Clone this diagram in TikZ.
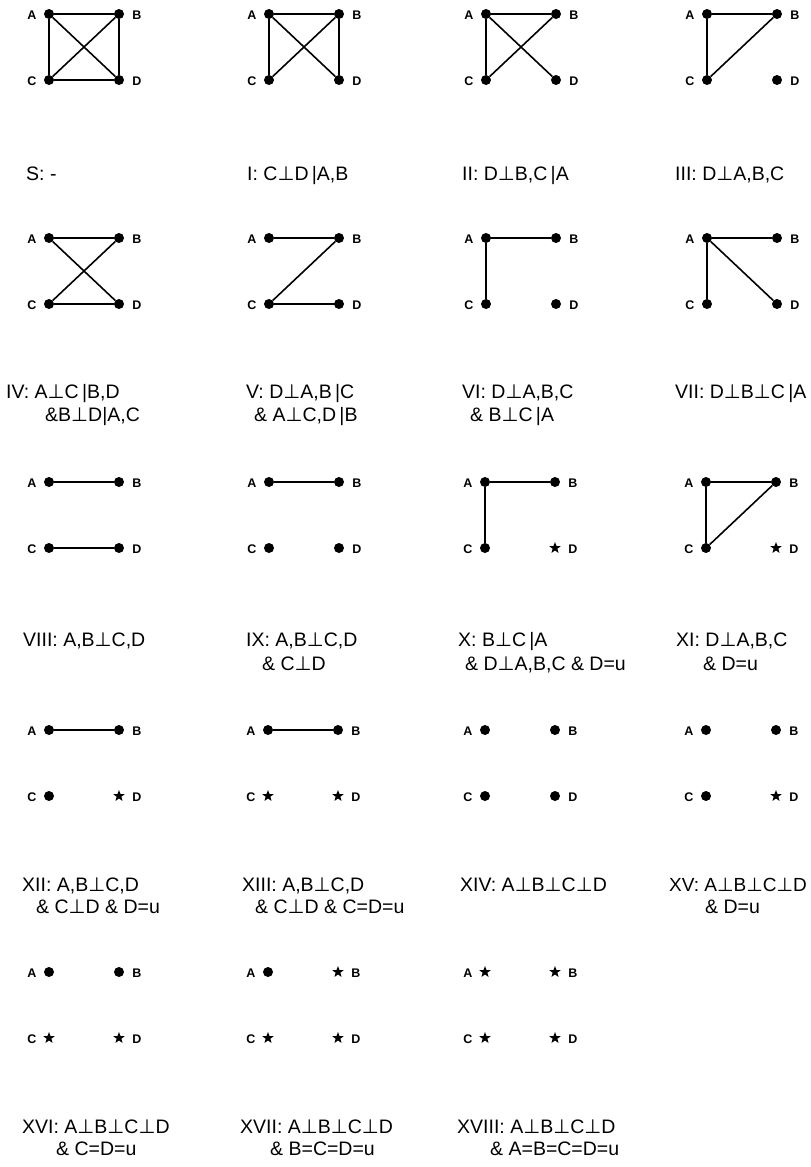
\documentclass[tikz,border=0pt]{standalone}
\usepackage{fontspec}
\setmainfont{Liberation Sans}
\newfontfamily\symf{DejaVu Sans}
\usetikzlibrary{shapes.geometric}
\tikzset{
  vdot/.style={circle, fill=black, inner sep=0pt, minimum size=10pt},
  vstar/.style={star, star points=5, star point ratio=2.4, fill=black, inner sep=0pt, minimum size=12pt},
  gedge/.style={line width=1.6pt},
  vlab/.style={font=\fontsize{12.5}{12.5}\selectfont\bfseries, inner sep=0pt},
  captxt/.style={font=\fontsize{19.5}{22}\selectfont, inner sep=0pt, anchor=base west},
}
\newcommand\ind{{\symf ⊥}}
\newcommand\mkpanel[7]{%
  \node[#4] (#1A) at (#2,#3) {};
  \node[#5] (#1B) at ({#2+70},#3) {};
  \node[#6] (#1C) at (#2,{#3+66}) {};
  \node[#7] (#1D) at ({#2+70},{#3+66}) {};
  \node[vlab] (#1la) at ({#2-17},{#3+1}) {A};
  \node[vlab] (#1lb) at ({#2+88},{#3+1}) {B};
  \node[vlab] (#1lc) at ({#2-17},{#3+67}) {C};
  \node[vlab] (#1ld) at ({#2+88},{#3+67}) {D};
}
\begin{document}
\begin{tikzpicture}[x=1pt,y=-1pt]
\useasboundingbox (0,0) rectangle (811,1167);
% ---------- row 1
\mkpanel{s}{49}{14}{vdot}{vdot}{vdot}{vdot}
\draw[gedge] (sA)--(sB) (sA)--(sC) (sA)--(sD) (sB)--(sC) (sB)--(sD) (sC)--(sD);
\mkpanel{i}{269}{14}{vdot}{vdot}{vdot}{vdot}
\draw[gedge] (iA)--(iB) (iA)--(iC) (iA)--(iD) (iB)--(iC) (iB)--(iD);
\mkpanel{ii}{486}{14}{vdot}{vdot}{vdot}{vdot}
\draw[gedge] (iiA)--(iiB) (iiA)--(iiC) (iiA)--(iiD) (iiB)--(iiC);
\mkpanel{iii}{707}{14}{vdot}{vdot}{vdot}{vdot}
\draw[gedge] (iiiA)--(iiiB) (iiiA)--(iiiC) (iiiB)--(iiiC);
\node[captxt] (cs) at (26,180) {S: -};
\node[captxt] (ci) at (247,180) {I: C\ind D\,|A,B};
\node[captxt] (cii) at (462,180) {II: D\ind B,C\,|A};
\node[captxt] (ciii) at (675,180) {III: D\ind A,B,C};
% ---------- row 2
\mkpanel{iv}{49}{238}{vdot}{vdot}{vdot}{vdot}
\draw[gedge] (ivA)--(ivB) (ivA)--(ivD) (ivB)--(ivC) (ivC)--(ivD);
\mkpanel{v}{269}{238}{vdot}{vdot}{vdot}{vdot}
\draw[gedge] (vA)--(vB) (vB)--(vC) (vC)--(vD);
\mkpanel{vi}{486}{238}{vdot}{vdot}{vdot}{vdot}
\draw[gedge] (viA)--(viB) (viA)--(viC);
\mkpanel{vii}{707}{238}{vdot}{vdot}{vdot}{vdot}
\draw[gedge] (viiA)--(viiB) (viiA)--(viiC) (viiA)--(viiD);
\node[captxt] (civ) at (6,398) {IV: A\ind C\,|B,D};
\node[captxt] (civb) at (45,421) {\&B\ind D|A,C};
\node[captxt] (cv) at (246,398) {V: D\ind A,B\,|C};
\node[captxt] (cvb) at (254,421) {\& A\ind C,D\,|B};
\node[captxt] (cvi) at (462,398) {VI: D\ind A,B,C};
\node[captxt] (cvib) at (470,421) {\& B\ind C\,|A};
\node[captxt] (cvii) at (675,398) {VII: D\ind B\ind C\,|A};
% ---------- row 3
\mkpanel{viii}{49}{482}{vdot}{vdot}{vdot}{vdot}
\draw[gedge] (viiiA)--(viiiB) (viiiC)--(viiiD);
\mkpanel{ix}{269}{482}{vdot}{vdot}{vdot}{vdot}
\draw[gedge] (ixA)--(ixB);
\mkpanel{x}{485}{482}{vdot}{vdot}{vdot}{vstar}
\draw[gedge] (xA)--(xB) (xA)--(xC);
\mkpanel{xi}{706}{482}{vdot}{vdot}{vdot}{vstar}
\draw[gedge] (xiA)--(xiB) (xiA)--(xiC) (xiB)--(xiC);
\node[captxt] (cviii) at (23,646) {VIII: A,B\ind C,D};
\node[captxt] (cix) at (246,646) {IX: A,B\ind C,D};
\node[captxt] (cixb) at (262,670) {\& C\ind D};
\node[captxt] (cx) at (458,646) {X: B\ind C\,|A};
\node[captxt] (cxb) at (465,670) {\& D\ind A,B,C \& D=u};
\node[captxt] (cxi) at (676,646) {XI: D\ind A,B,C};
\node[captxt] (cxib) at (703,670) {\& D=u};
% ---------- row 4
\mkpanel{xii}{49}{730}{vdot}{vdot}{vdot}{vstar}
\draw[gedge] (xiiA)--(xiiB);
\mkpanel{xiii}{268}{730}{vdot}{vdot}{vstar}{vstar}
\draw[gedge] (xiiiA)--(xiiiB);
\mkpanel{xiv}{485}{730}{vdot}{vdot}{vdot}{vdot}
\mkpanel{xv}{706}{730}{vdot}{vdot}{vdot}{vstar}
\node[captxt] (cxii) at (22,891) {XII: A,B\ind C,D};
\node[captxt] (cxiib) at (36,913) {\& C\ind D \& D=u};
\node[captxt] (cxiii) at (242,891) {XIII: A,B\ind C,D};
\node[captxt] (cxiiib) at (255,913) {\& C\ind D \& C=D=u};
\node[captxt] (cxiv) at (460,891) {XIV: A\ind B\ind C\ind D};
\node[captxt, font=\fontsize{19}{22}\selectfont] (cxv) at (669,891) {XV: A\ind B\ind C\ind D};
\node[captxt] (cxvb) at (705,913) {\& D=u};
% ---------- row 5
\mkpanel{xvi}{49}{972}{vdot}{vdot}{vstar}{vstar}
\mkpanel{xvii}{268}{972}{vdot}{vstar}{vstar}{vstar}
\mkpanel{xviii}{485}{972}{vstar}{vstar}{vstar}{vstar}
\node[captxt] (cxvi) at (22,1133) {XVI: A\ind B\ind C\ind D};
\node[captxt] (cxvib) at (56,1155) {\& C=D=u};
\node[captxt] (cxvii) at (240,1133) {XVII: A\ind B\ind C\ind D};
\node[captxt] (cxviib) at (270,1155) {\& B=C=D=u};
\node[captxt] (cxviii) at (457,1133) {XVIII: A\ind B\ind C\ind D};
\node[captxt] (cxviiib) at (490,1155) {\& A=B=C=D=u};
\end{tikzpicture}
\end{document}
